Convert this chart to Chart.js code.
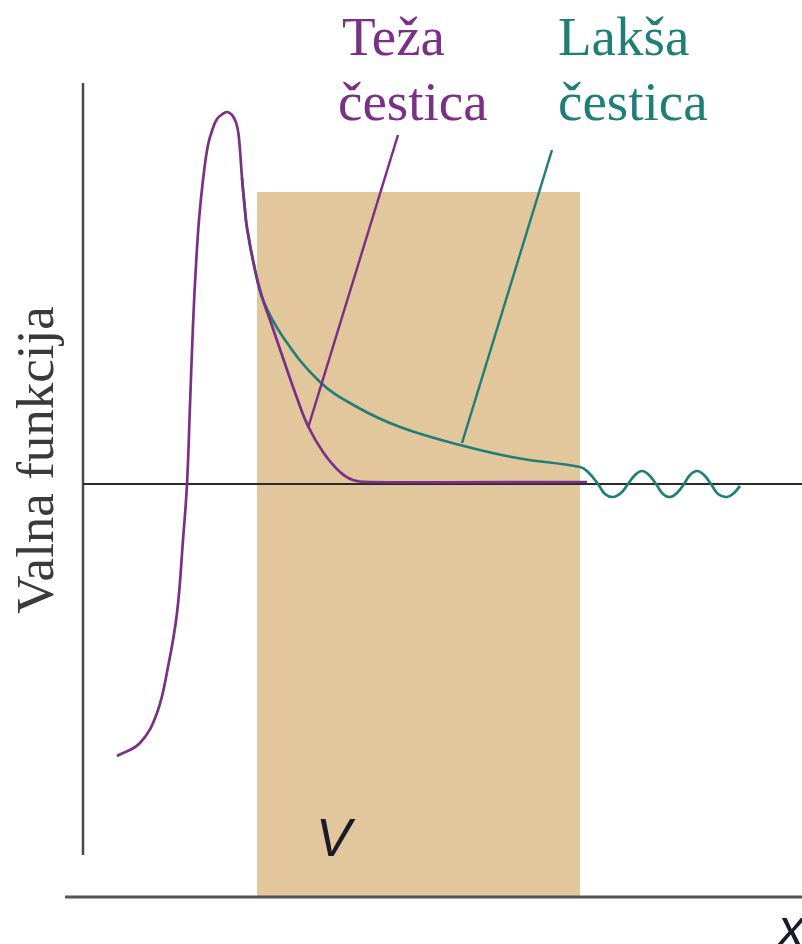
<!DOCTYPE html>
<html>
<head>
<meta charset="utf-8">
<script src="https://cdn.jsdelivr.net/npm/chart.js@4/dist/chart.umd.min.js"></script>
<style>
  html, body { margin: 0; padding: 0; background: #fff; }
  #wrap { width: 802px; height: 944px; }
</style>
</head>
<body>
<div id="wrap"><canvas id="waveChart" width="802" height="944"></canvas></div>
<script>
// units: x = position (barrier from 0 to 32.3), y = wave function value
const barrierX = [0, 32.3];
const barrierTop = 29.2;
const groundY = -41.3;

const heavyX = [-14.0, -11.7, -10.0, -8.9, -8.0, -7.4, -7.0, -6.7, -6.4, -6.1, -5.8, -5.4, -4.9, -4.4, -4.0, -3.5, -3.0, -2.6, -2.3, -2.05, -1.85, -1.7, -1.5, -1.25, -1.0, -0.2, 0.6, 1.3, 2.6, 4.0, 5.1, 6.6, 8.3, 9.6, 11.3, 33.0];
const heavyY = [-27.2, -25.9, -22.9, -18.3, -12.9, -5.6, 0, 7.9, 15.9, 21.9, 26.4, 30.4, 33.9, 35.6, 36.5, 36.95, 37.2, 37.0, 36.6, 36.0, 35.0, 33.4, 30.6, 27.9, 25.6, 21.4, 18.4, 16.4, 12.6, 8.6, 5.8, 3.2, 1.2, 0.4, 0.2, 0.2];

const lightX = [-1.5, -1.25, -1.0, -0.2, 0.6, 2.6, 6.3, 10.0, 14.3, 20.3, 26.0, 32.3, 33.1, 34.1, 34.8, 35.6, 36.4, 37.1, 37.8, 38.5, 39.2, 39.9, 40.6, 41.3, 42.0, 42.7, 43.3, 44.0, 44.7, 45.4, 46.1, 47.0, 47.7, 48.3];
const lightY = [30.6, 27.9, 25.6, 21.4, 18.4, 14.7, 10.2, 7.7, 5.7, 3.9, 2.6, 1.7, 1.2, 0, -1.0, -1.3, -0.9, 0, 0.9, 1.3, 0.9, 0, -1.0, -1.3, -0.9, 0, 0.9, 1.3, 0.9, 0, -1.0, -1.3, -0.9, -0.2];

// leader lines from labels to curves
const heavyPointerX = [14.1, 5.1];
const heavyPointerY = [34.9, 5.6];
const lightPointerX = [29.5, 20.5];
const lightPointerY = [33.4, 4.1];

// axes
const yAxisX = -17.4;
const yAxisRange = [-37.1, 40.1];
const xAxisRange = [-19.2, 54.5];
const zeroRange = [-17.4, 54.5];

const PURPLE = '#7b2f87';
const TEAL = '#1f7f78';
const TAN = '#e2c79c';

const zip = (xs, ys) => xs.map((x, i) => ({ x: x, y: ys[i] }));
const line = (data, color, width, order, extra) => Object.assign({
    data: data, borderColor: color, borderWidth: width, pointRadius: 0,
    fill: false, tension: 0, order: order, clip: false
}, extra || {});

const labelsPlugin = {
    id: 'labels',
    afterDraw(chart) {
        const c = chart.ctx;
        c.save();
        c.textBaseline = 'alphabetic';
        c.font = '55px "Liberation Serif", "DejaVu Serif", serif';
        c.fillStyle = PURPLE;
        c.fillText('Teža', 342, 55);
        c.fillText('čestica', 338, 120);
        c.fillStyle = TEAL;
        c.fillText('Lakša', 558, 55);
        c.fillText('čestica', 558, 120);

        c.fillStyle = '#3a3a3a';
        c.font = '53px "Liberation Serif", "DejaVu Serif", serif';
        c.translate(53, 460);
        c.rotate(-Math.PI / 2);
        c.textAlign = 'center';
        c.fillText('Valna funkcija', 0, 0);
        c.restore();

        c.save();
        c.fillStyle = '#1b1b2a';
        c.font = 'italic 53px "Liberation Sans", "DejaVu Sans", sans-serif';
        c.fillText('V', 316, 856);
        c.fillText('x', 778, 946);
        c.restore();
    }
};

new Chart(document.getElementById('waveChart'), {
    type: 'line',
    data: {
        datasets: [
            line(zip(heavyX, heavyY), PURPLE, 2.7, 1, { tension: 0.4 }),
            line(zip(lightX, lightY), TEAL, 2.7, 2, { tension: 0.4 }),
            line(zip(heavyPointerX, heavyPointerY), PURPLE, 2.5, 0),
            line(zip(lightPointerX, lightPointerY), TEAL, 2.5, 0),
            line(zeroRange.map(x => ({ x: x, y: 0 })), '#2b2b2b', 2, 3),
            line(yAxisRange.map(y => ({ x: yAxisX, y: y })), '#4a4a4a', 2.5, 4),
            line(xAxisRange.map(x => ({ x: x, y: groundY })), '#555555', 3, 4),
            line(barrierX.map(x => ({ x: x, y: barrierTop })), 'rgba(0,0,0,0)', 0, 10,
                 { fill: { value: groundY }, backgroundColor: TAN })
        ]
    },
    options: {
        responsive: false,
        animation: false,
        events: [],
        layout: { padding: 0 },
        plugins: { legend: { display: false }, tooltip: { enabled: false } },
        scales: {
            x: { type: 'linear', min: -25.7, max: 54.5, display: false },
            y: { type: 'linear', min: -46.0, max: 48.4, display: false }
        }
    },
    plugins: [labelsPlugin]
});
</script>
</body>
</html>
